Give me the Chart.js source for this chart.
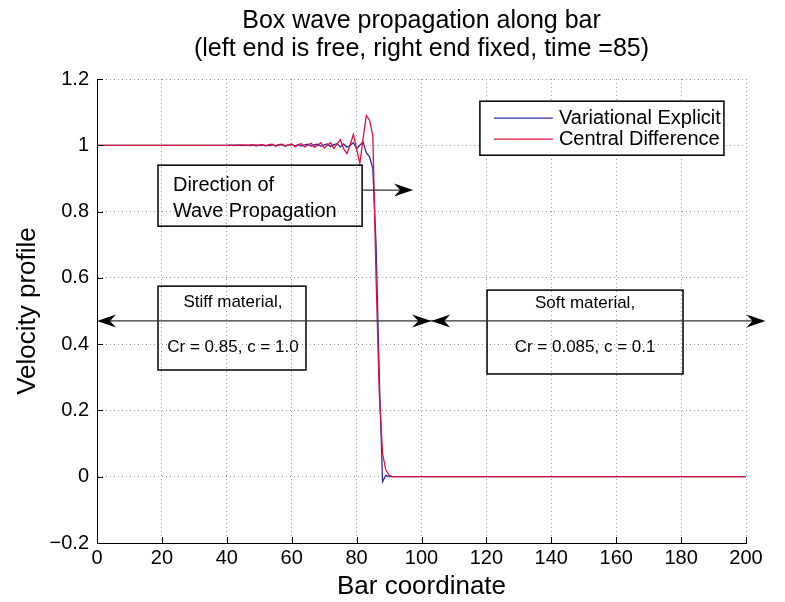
<!DOCTYPE html>
<html>
<head>
<meta charset="utf-8">
<script src="https://cdn.jsdelivr.net/npm/chart.js@4.4.1/dist/chart.umd.min.js"></script>
<style>
  html, body { margin: 0; padding: 0; background: #fff; }
  #wrap { width: 785px; height: 602px; }
</style>
</head>
<body>
<div id="wrap"><canvas id="waveChart" width="785" height="602"></canvas></div>
<script>
// bar coordinate samples (sparse where the profile is flat)
const barX = [0, 10, 20, 30,
  40, 41, 42, 43, 44, 45, 46, 47, 48, 49,
  50, 51, 52, 53, 54, 55, 56, 57, 58, 59,
  60, 61, 62, 63, 64, 65, 66, 67, 68, 69,
  70, 71, 72, 73, 74, 75, 76, 77, 78, 79,
  80, 81, 82, 83, 84, 85, 86, 87, 88, 89,
  90, 91, 92, 93, 94, 95, 96, 97, 98, 99,
  100, 120, 140, 160, 180, 200];

const variationalExplicit = [1, 1, 1, 1,
  1, 1.001, 0.999, 1.001, 1, 0.999, 1.001, 0.999, 1, 1.001,
  0.999, 1.001, 1, 0.999, 1.001, 0.999, 1.001, 1.002, 0.998, 1.001,
  1.002, 0.998, 1.002, 0.998, 1.001, 1.003, 0.997, 1.002, 1.003, 0.997,
  1.001, 1.004, 0.996, 1.002, 1.005, 0.995, 1.004, 0.994, 1.0, 1.008,
  0.99, 1.0, 1.01, 0.978, 0.965, 0.93, 0.7, 0.3, -0.015, 0.004,
  0, 0, 0, 0, 0, 0, 0, 0, 0, 0,
  0, 0, 0, 0, 0, 0];

const centralDifference = [1, 1, 1, 1,
  1, 0.999, 1.001, 0.999, 1.001, 1.001, 0.999, 1.001, 1.002, 0.998,
  1.001, 1.002, 0.998, 1.002, 1.003, 0.997, 1.002, 1.003, 0.997, 1.001,
  1.004, 0.996, 1.002, 1.005, 0.995, 1.001, 1.006, 0.994, 1.0, 1.008,
  0.992, 1.0, 1.008, 0.99, 1.004, 1.017, 0.99, 0.975, 1.0, 1.033,
  0.99, 0.945, 1.02, 1.09, 1.075, 1.03, 0.6, 0.25, 0.07, 0.02,
  0.005, 0, 0, 0, 0, 0, 0, 0, 0, 0,
  0, 0, 0, 0, 0, 0];

const xTicks = [0, 20, 40, 60, 80, 100, 120, 140, 160, 180, 200];
const yTicks = [-0.2, 0, 0.2, 0.4, 0.6, 0.8, 1, 1.2];
const yTickLabels = ['\u22120.2', '0', '0.2', '0.4', '0.6', '0.8', '1', '1.2'];
const seriesNames = ['Variational Explicit', 'Central Difference'];

const BLUE = '#2c2ca6';
const RED = '#e0103c';
const FONT = '"Liberation Sans", Arial, Helvetica, sans-serif';

function toPoints(xs, ys) {
    return xs.map((x, i) => ({ x: x, y: ys[i] }));
}

// text boxes and arrows, placed in data units
const notes = {
    direction: { x0: 18.8, x1: 81.7, y0: 0.94, y1: 0.756, tx: 23.4, size: 20, lines: [['Direction of', 0.88], ['Wave Propagation', 0.80]] },
    stiff: { x0: 18.8, x1: 64.4, y0: 0.575, y1: 0.322, tx: 41.9, size: 17, lines: [['Stiff material,', 0.527], ['Cr = 0.85, c = 1.0', 0.391]] },
    soft: { x0: 120.2, x1: 180.6, y0: 0.563, y1: 0.31, tx: 150.4, size: 17, lines: [['Soft material,', 0.524], ['Cr = 0.085, c = 0.1', 0.391]] }
};
const dirArrow = { x0: 81.7, x1: 97.4, y: 0.865 };
const splitArrow = { x0: 0, xm: 103, x1: 206, y: 0.47 };
const legendBox = { x0: 118, x1: 193.2, y0: 1.133, y1: 0.97 };

function arrowHead(ctx, tipX, tipY, dir) {
    const L = 19, W = 6.5, back = 6;
    ctx.beginPath();
    ctx.moveTo(tipX, tipY);
    ctx.lineTo(tipX - dir * L, tipY - W);
    ctx.lineTo(tipX - dir * (L - back), tipY);
    ctx.lineTo(tipX - dir * L, tipY + W);
    ctx.closePath();
    ctx.fill();
}

const overlay = {
    id: 'overlay',
    afterDatasetsDraw(chart) {
        const { ctx, chartArea: a, scales: { x, y } } = chart;
        const px = v => x.getPixelForValue(v);
        const py = v => y.getPixelForValue(v);
        ctx.save();

        // inward tick marks
        ctx.strokeStyle = '#000';
        ctx.lineWidth = 1;
        ctx.beginPath();
        xTicks.forEach(t => {
            const p = Math.round(px(t)) + 0.5;
            ctx.moveTo(p, a.bottom); ctx.lineTo(p, a.bottom - 6);
        });
        yTicks.forEach(t => {
            const p = Math.round(py(t)) + 0.5;
            ctx.moveTo(a.left, p); ctx.lineTo(a.left + 6, p);
        });
        ctx.stroke();

        // boxes with text
        ctx.fillStyle = '#000';
        ctx.textBaseline = 'middle';
        Object.keys(notes).forEach(k => {
            const n = notes[k];
            ctx.lineWidth = 1.5;
            ctx.strokeStyle = '#000';
            ctx.strokeRect(px(n.x0), py(n.y0), px(n.x1) - px(n.x0), py(n.y1) - py(n.y0));
            ctx.font = n.size + 'px ' + FONT;
            ctx.textAlign = k === 'direction' ? 'left' : 'center';
            n.lines.forEach(l => ctx.fillText(l[0], px(n.tx), py(l[1])));
        });

        // arrows
        ctx.strokeStyle = '#333';
        ctx.lineWidth = 1.2;
        ctx.beginPath();
        ctx.moveTo(px(dirArrow.x0), py(dirArrow.y));
        ctx.lineTo(px(dirArrow.x1) - 10, py(dirArrow.y));
        ctx.moveTo(px(splitArrow.x0) + 8, py(splitArrow.y));
        ctx.lineTo(px(splitArrow.x1) - 8, py(splitArrow.y));
        ctx.stroke();
        ctx.fillStyle = '#000';
        arrowHead(ctx, px(dirArrow.x1), py(dirArrow.y), 1);
        arrowHead(ctx, px(splitArrow.x0), py(splitArrow.y), -1);
        arrowHead(ctx, px(splitArrow.xm), py(splitArrow.y), 1);
        arrowHead(ctx, px(splitArrow.xm), py(splitArrow.y), -1);
        arrowHead(ctx, px(splitArrow.x1), py(splitArrow.y), 1);

        // legend
        const lx0 = px(legendBox.x0), lx1 = px(legendBox.x1);
        const ly0 = py(legendBox.y0), ly1 = py(legendBox.y1);
        ctx.fillStyle = '#fff';
        ctx.fillRect(lx0, ly0, lx1 - lx0, ly1 - ly0);
        ctx.strokeStyle = '#000';
        ctx.lineWidth = 1.5;
        ctx.strokeRect(lx0, ly0, lx1 - lx0, ly1 - ly0);
        const rowY = [ly0 + 17, ly0 + 38];
        [BLUE, RED].forEach((c, i) => {
            ctx.strokeStyle = c;
            ctx.lineWidth = 1.2;
            ctx.beginPath();
            ctx.moveTo(lx0 + 14, rowY[i]);
            ctx.lineTo(lx0 + 73, rowY[i]);
            ctx.stroke();
            ctx.fillStyle = '#000';
            ctx.font = '20px ' + FONT;
            ctx.textAlign = 'left';
            ctx.fillText(seriesNames[i], lx0 + 79, rowY[i]);
        });
        ctx.restore();
    }
};

const gridStyle = { color: '#9a9a9a', lineWidth: 1, drawTicks: false };
const borderStyle = { display: true, color: '#000', width: 1, dash: [1, 3] };

const ctx = document.getElementById('waveChart').getContext('2d');
const chart = new Chart(ctx, {
    type: 'line',
    data: {
        datasets: [
            {
                label: seriesNames[1],
                data: toPoints(barX, centralDifference),
                borderColor: RED,
                borderWidth: 1.3,
                pointRadius: 0,
                tension: 0,
                order: 0
            },
            {
                label: seriesNames[0],
                data: toPoints(barX, variationalExplicit),
                borderColor: BLUE,
                borderWidth: 1.3,
                pointRadius: 0,
                tension: 0,
                order: 1
            }
        ]
    },
    options: {
        responsive: false,
        animation: false,
        layout: { padding: { left: 0, right: 39, top: 0, bottom: 0 } },
        plugins: {
            legend: { display: false },
            tooltip: { enabled: false },
            title: {
                display: true,
                fullSize: false,
                text: ['Box wave propagation along bar', '(left end is free, right end fixed, time =85)'],
                color: '#000',
                font: { family: FONT, size: 25, weight: 'normal', lineHeight: 1.12 },
                padding: { top: 7, bottom: 16 }
            }
        },
        scales: {
            x: {
                type: 'linear',
                min: 0,
                max: 200,
                afterBuildTicks: s => { s.ticks = xTicks.map(v => ({ value: v })); },
                afterFit: s => { s.height = 59; },
                grid: gridStyle,
                border: borderStyle,
                ticks: {
                    color: '#000',
                    padding: 3,
                    maxRotation: 0,
                    font: { family: FONT, size: 20 },
                    callback: v => String(v)
                },
                title: {
                    display: true,
                    text: 'Bar coordinate',
                    color: '#000',
                    font: { family: FONT, size: 26, lineHeight: 1.1 },
                    padding: { top: 0, bottom: 1 }
                }
            },
            y: {
                min: -0.2,
                max: 1.2,
                afterBuildTicks: s => { s.ticks = yTicks.map(v => ({ value: v })); },
                afterFit: s => { s.width = 97; },
                grid: gridStyle,
                border: borderStyle,
                ticks: {
                    color: '#000',
                    padding: 8,
                    font: { family: FONT, size: 20 },
                    callback: v => yTickLabels[yTicks.indexOf(v)]
                },
                title: {
                    display: true,
                    text: 'Velocity profile',
                    color: '#000',
                    font: { family: FONT, size: 26, lineHeight: 1.1 },
                    padding: { top: 14, bottom: 0 }
                }
            }
        }
    },
    plugins: [overlay]
});
</script>
</body>
</html>
